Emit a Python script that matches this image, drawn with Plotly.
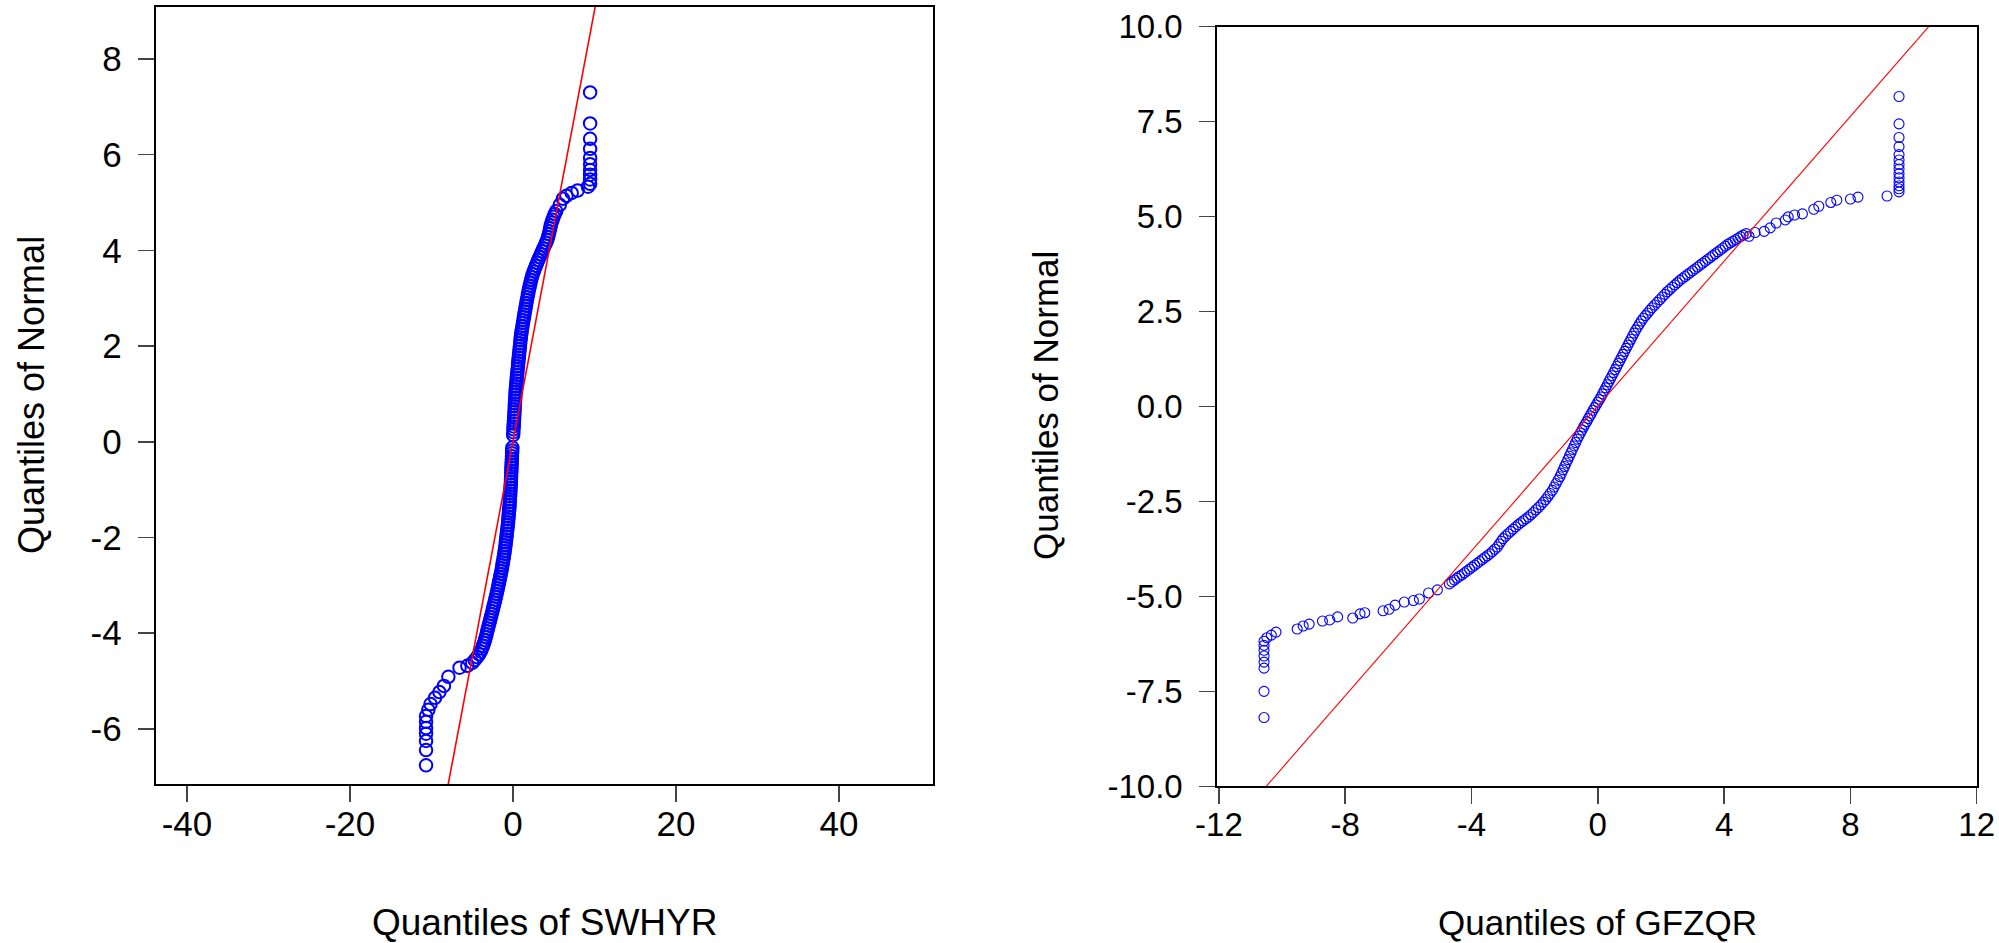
import plotly.graph_objects as go

# ---------------- Left panel: SWHYR ----------------
# central band, lower half (normal quantile y, sample quantile x)
swhyr_low_y = [-4.62,-4.56,-4.50,-4.44,-4.38,-4.32,-4.26,-4.20,-4.14,-4.08,-4.02,-3.96,-3.90,-3.84,-3.78,-3.72,-3.66,-3.60,-3.54,-3.48,
               -3.42,-3.36,-3.30,-3.24,-3.18,-3.12,-3.06,-3.00,-2.94,-2.88,-2.82,-2.76,-2.70,-2.64,-2.58,-2.52,-2.46,-2.40,-2.34,-2.28,
               -2.22,-2.16,-2.10,-2.04,-1.98,-1.92,-1.86,-1.80,-1.74,-1.68,-1.62,-1.56,-1.50,-1.44,-1.38,-1.32,-1.26,-1.20,-1.14,-1.08,
               -1.02,-0.96,-0.90,-0.84,-0.78,-0.72,-0.66,-0.60,-0.54,-0.48,-0.42,-0.36,-0.30,-0.24,-0.18,-0.12]
swhyr_low_x = [-5.00,-4.70,-4.40,-4.15,-3.95,-3.80,-3.68,-3.55,-3.44,-3.34,-3.25,-3.16,-3.07,-2.98,-2.89,-2.80,-2.71,-2.62,-2.53,-2.44,
               -2.35,-2.26,-2.18,-2.10,-2.02,-1.94,-1.86,-1.78,-1.71,-1.64,-1.57,-1.50,-1.43,-1.36,-1.30,-1.24,-1.18,-1.12,-1.07,-1.02,
               -0.97,-0.92,-0.88,-0.84,-0.80,-0.76,-0.72,-0.68,-0.64,-0.60,-0.57,-0.54,-0.51,-0.48,-0.45,-0.42,-0.40,-0.38,-0.36,-0.34,
               -0.32,-0.30,-0.28,-0.26,-0.25,-0.23,-0.22,-0.20,-0.19,-0.17,-0.16,-0.14,-0.13,-0.11,-0.10,-0.08]
# central band, upper half
swhyr_up_y = [0.14,0.20,0.26,0.32,0.38,0.44,0.50,0.56,0.62,0.68,0.74,0.80,0.86,0.92,0.98,1.04,1.10,1.16,1.22,1.28,
              1.34,1.40,1.46,1.52,1.58,1.64,1.70,1.76,1.82,1.88,1.94,2.00,2.06,2.12,2.18,2.24,2.30,2.36,2.42,2.48,
              2.54,2.60,2.66,2.72,2.78,2.84,2.90,2.96,3.02,3.08,3.14,3.20,3.26,3.32,3.38,3.44,3.50,3.56,3.62,3.68,
              3.74,3.80,3.86,3.92,3.98,4.04,4.10,4.16,4.22,4.28,4.34,4.40,4.46,4.52,4.58,4.64,4.70,4.76,4.82]
swhyr_up_x = [0.02,0.04,0.06,0.08,0.10,0.12,0.14,0.16,0.18,0.20,0.22,0.24,0.26,0.28,0.30,0.32,0.35,0.38,0.41,0.44,
              0.47,0.50,0.54,0.57,0.61,0.64,0.67,0.71,0.74,0.78,0.81,0.85,0.88,0.92,0.96,1.00,1.05,1.10,1.16,1.22,
              1.28,1.34,1.40,1.46,1.52,1.58,1.64,1.70,1.77,1.84,1.91,1.98,2.06,2.14,2.22,2.31,2.42,2.55,2.68,2.82,
              2.96,3.10,3.26,3.42,3.58,3.74,3.90,4.05,4.20,4.30,4.40,4.48,4.56,4.64,4.74,4.85,4.98,5.12,5.30]
# tails
swhyr_tail_x = [5.74,6.13,6.56,7.20,7.93,9.20,9.46,9.46,9.46,9.46,9.46,9.46,9.46,9.46,9.46,9.46,
                -5.60,-6.56,-7.93,-8.48,-9.03,-9.57,-10.12,-10.39,-10.67,-10.67,-10.67,-10.67,-10.67,-10.67,-10.67]
swhyr_tail_y = [4.95,5.08,5.14,5.20,5.25,5.33,5.39,5.48,5.58,5.68,5.80,5.93,6.12,6.33,6.65,7.30,
                -4.68,-4.72,-4.91,-5.10,-5.23,-5.35,-5.48,-5.60,-5.73,-5.85,-5.98,-6.10,-6.25,-6.44,-6.76]
swhyr_line_x = [-8.0, 10.1]
swhyr_line_y = [-7.2, 9.1]

# ---------------- Right panel: GFZQR ----------------
gfzqr_band_x = [-4.70,-4.62,-4.54,-4.46,-4.38,-4.30,-4.22,-4.14,-4.06,-3.98,-3.90,-3.82,-3.74,-3.66,-3.58,-3.50,-3.42,-3.34,-3.26,-3.18,
                -3.12,-3.06,-3.00,-2.92,-2.84,-2.76,-2.68,-2.60,-2.52,-2.44,-2.36,-2.28,-2.20,-2.12,-2.04,-1.96,-1.88,-1.80,-1.72,-1.65,
                -1.58,-1.51,-1.44,-1.38,-1.32,-1.26,-1.20,-1.15,-1.10,-1.05,-1.00,-0.95,-0.90,-0.85,-0.80,-0.75,-0.70,-0.65,-0.60,-0.55,
                -0.50,-0.45,-0.40,-0.35,-0.30,-0.25,-0.20,-0.15,-0.10,-0.05,0.00,0.05,0.10,0.15,0.20,0.25,0.30,0.35,0.40,0.45,
                0.50,0.55,0.60,0.65,0.70,0.75,0.80,0.85,0.90,0.95,1.00,1.05,1.10,1.15,1.20,1.26,1.32,1.38,1.44,1.51,
                1.58,1.65,1.72,1.80,1.88,1.96,2.04,2.12,2.20,2.28,2.36,2.44,2.52,2.60,2.68,2.76,2.84,2.92,3.00,3.08,
                3.16,3.24,3.32,3.40,3.48,3.56,3.64,3.72,3.80,3.88,3.96,4.04,4.12,4.20,4.28,4.36,4.44,4.52,4.60,4.70]
gfzqr_band_y = [-4.67,-4.62,-4.57,-4.52,-4.47,-4.43,-4.38,-4.33,-4.28,-4.23,-4.18,-4.13,-4.08,-4.03,-3.98,-3.93,-3.88,-3.82,-3.76,-3.70,
                -3.62,-3.55,-3.48,-3.41,-3.35,-3.29,-3.23,-3.17,-3.11,-3.06,-3.01,-2.96,-2.91,-2.85,-2.79,-2.72,-2.66,-2.59,-2.52,-2.45,
                -2.37,-2.29,-2.21,-2.12,-2.03,-1.94,-1.85,-1.76,-1.67,-1.58,-1.49,-1.40,-1.31,-1.22,-1.13,-1.04,-0.95,-0.86,-0.78,-0.70,
                -0.62,-0.54,-0.47,-0.40,-0.32,-0.25,-0.18,-0.10,-0.03,0.04,0.11,0.18,0.25,0.33,0.41,0.49,0.57,0.65,0.73,0.81,
                0.89,0.97,1.05,1.13,1.21,1.29,1.37,1.45,1.53,1.61,1.69,1.77,1.85,1.93,2.01,2.09,2.17,2.25,2.32,2.39,
                2.46,2.53,2.60,2.67,2.74,2.81,2.88,2.95,3.02,3.08,3.14,3.20,3.26,3.32,3.37,3.42,3.47,3.52,3.57,3.62,
                3.67,3.72,3.77,3.82,3.87,3.92,3.97,4.02,4.07,4.12,4.17,4.22,4.27,4.31,4.35,4.39,4.43,4.47,4.51,4.55]
gfzqr_tail_x = [4.79,4.98,5.27,5.46,5.65,5.94,6.03,6.23,6.48,6.84,7.00,7.38,7.57,8.00,8.24,9.16,
                9.54,9.54,9.54,9.54,9.54,9.54,9.54,9.54,9.54,9.54,9.54,9.54,9.54,9.54,
                -5.08,-5.36,-5.65,-5.84,-6.13,-6.42,-6.61,-6.80,-7.38,-7.53,-7.76,-8.24,-8.49,-8.72,-9.14,-9.33,-9.52,
                -10.19,-10.34,-10.48,-10.57,-10.57,-10.57,-10.57,-10.57,-10.57,-10.57,-10.57]
gfzqr_tail_y = [4.48,4.58,4.61,4.70,4.83,4.91,4.99,5.04,5.07,5.19,5.27,5.37,5.43,5.46,5.51,5.54,
                5.65,5.73,5.81,5.91,6.02,6.13,6.25,6.37,6.49,6.63,6.84,7.08,7.44,8.16,
                -4.83,-4.91,-5.07,-5.11,-5.15,-5.23,-5.34,-5.38,-5.43,-5.46,-5.57,-5.54,-5.62,-5.65,-5.73,-5.78,-5.86,
                -5.94,-6.02,-6.09,-6.18,-6.29,-6.42,-6.57,-6.73,-6.89,-7.50,-8.19]
gfzqr_line_x = [-10.5, 10.48]
gfzqr_line_y = [-10.0, 10.0]

left_xticks = [-40, -20, 0, 20, 40]
left_xlabels = ["-40", "-20", "0", "20", "40"]
left_yticks = [-6, -4, -2, 0, 2, 4, 6, 8]
left_ylabels = ["-6", "-4", "-2", "0", "2", "4", "6", "8"]
right_xticks = [-12, -8, -4, 0, 4, 8, 12]
right_xlabels = ["-12", "-8", "-4", "0", "4", "8", "12"]
right_yticks = [-10, -7.5, -5, -2.5, 0, 2.5, 5, 7.5, 10]
right_ylabels = ["-10.0", "-7.5", "-5.0", "-2.5", "0.0", "2.5", "5.0", "7.5", "10.0"]

BLUE = "#0000FF"
RED = "#FF0000"
FONT = "Liberation Sans, Arial, sans-serif"

fig = go.Figure()
mk_l = dict(symbol="circle-open", size=12.5, color=BLUE, line=dict(width=2.0, color=BLUE))
mk_r = dict(symbol="circle-open", size=10, color=BLUE, line=dict(width=1.1, color=BLUE))

for xs, ys in [(swhyr_low_x, swhyr_low_y), (swhyr_up_x, swhyr_up_y), (swhyr_tail_x, swhyr_tail_y)]:
    fig.add_trace(go.Scatter(x=xs, y=ys, mode="markers", marker=mk_l, xaxis="x", yaxis="y", showlegend=False))
fig.add_trace(go.Scatter(x=swhyr_line_x, y=swhyr_line_y, mode="lines", line=dict(color=RED, width=1.6),
                         xaxis="x", yaxis="y", showlegend=False))

for xs, ys in [(gfzqr_band_x, gfzqr_band_y), (gfzqr_tail_x, gfzqr_tail_y)]:
    fig.add_trace(go.Scatter(x=xs, y=ys, mode="markers", marker=mk_r, xaxis="x2", yaxis="y2", showlegend=False))
fig.add_trace(go.Scatter(x=gfzqr_line_x, y=gfzqr_line_y, mode="lines", line=dict(color=RED, width=1.1),
                         xaxis="x2", yaxis="y2", showlegend=False))

W, H = 1999, 943
def px_x(p): return p / W
def px_y(p): return 1 - p / H

axis_common = dict(showline=True, mirror=True, linecolor="black", showgrid=False, zeroline=False,
                   ticks="outside", tickcolor="#444444", tickwidth=1.5, ticklen=16, automargin=False)

fig.update_layout(
    width=W, height=H, autosize=False, margin=dict(l=0, r=0, t=0, b=0, pad=0, autoexpand=False),
    paper_bgcolor="white", plot_bgcolor="white",
    font=dict(family=FONT, color="black"),
    hovermode=False,
    xaxis=dict(domain=[px_x(155.7), px_x(933.3)], range=[-43.84, 51.57], tickvals=left_xticks, ticktext=left_xlabels,
               linewidth=2, tickfont=dict(size=35), anchor="y", ticklabelstandoff=-8, **axis_common),
    yaxis=dict(domain=[px_y(784), px_y(6.7)], range=[-7.15, 9.09], tickvals=left_yticks, ticktext=left_ylabels,
               linewidth=2, tickfont=dict(size=35), anchor="x", ticklabelstandoff=9, **axis_common),
    xaxis2=dict(domain=[px_x(1217.3), px_x(1976.7)], range=[-12.05, 12.0], tickvals=right_xticks, ticktext=right_xlabels,
                linewidth=2, tickfont=dict(size=33), anchor="y2", ticklabelstandoff=-8, **axis_common),
    yaxis2=dict(domain=[px_y(786.3), px_y(26.6)], range=[-10, 10], tickvals=right_yticks, ticktext=right_ylabels,
                linewidth=2, tickfont=dict(size=33), anchor="x2", ticklabelstandoff=10, **axis_common),
    annotations=[
        dict(text="Quantiles of SWHYR", x=px_x(544.5), y=px_y(922), xref="paper", yref="paper",
             showarrow=False, font=dict(size=37, family=FONT), xanchor="center", yanchor="middle"),
        dict(text="Quantiles of Normal", x=px_x(32), y=px_y(395), xref="paper", yref="paper", textangle=-90,
             showarrow=False, font=dict(size=36, family=FONT), xanchor="center", yanchor="middle"),
        dict(text="Quantiles of GFZQR", x=px_x(1597), y=px_y(922), xref="paper", yref="paper",
             showarrow=False, font=dict(size=35, family=FONT), xanchor="center", yanchor="middle"),
        dict(text="Quantiles of Normal", x=px_x(1046), y=px_y(406), xref="paper", yref="paper", textangle=-90,
             showarrow=False, font=dict(size=35, family=FONT), xanchor="center", yanchor="middle"),
    ],
)

fig.write_html("out.html", config={"displayModeBar": False, "staticPlot": True},
               post_script="document.body.style.margin='0';document.body.style.overflow='hidden';")
